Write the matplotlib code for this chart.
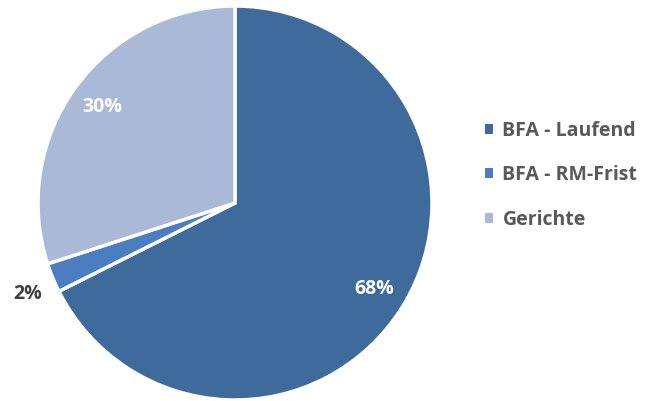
import numpy as np
import matplotlib.pyplot as plt
from matplotlib.patches import Patch

categories = ['BFA - Laufend', 'BFA - RM-Frist', 'Gerichte']
values = [67.6, 2.4, 30.0]
colors = ['#3F6A9C', '#4A7EC0', '#A9B9D7']

plt.rcParams['font.family'] = ['Open Sans', 'DejaVu Sans']

fig = plt.figure(figsize=(6.59, 4.01), dpi=100)
ax = fig.add_axes([38 / 659, 1 / 401, 394 / 659, 394 / 401])

wedges, texts, autotexts = ax.pie(
    values, colors=colors, startangle=90, counterclock=False,
    autopct='%1.0f%%', pctdistance=0.83,
    wedgeprops=dict(edgecolor='white', linewidth=2.5),
    textprops=dict(color='white', fontsize=14, fontweight='bold'))

# small slice label sits outside the pie
w = wedges[1]
ang = np.deg2rad((w.theta1 + w.theta2) / 2 + 1.5)
autotexts[1].set_position((1.15 * np.cos(ang), 1.15 * np.sin(ang)))
autotexts[1].set_color('#404040')

ax.set_xlim(-1, 1)
ax.set_ylim(-1, 1)
ax.set_aspect('equal')

handles = [Patch(facecolor=c, edgecolor='none') for c in colors]
fig.legend(handles, categories, loc='center left', bbox_to_anchor=(467 / 659, 0.563),
           frameon=False, handlelength=0.42, handleheight=0.42, handletextpad=0.5,
           labelspacing=1.26, prop=dict(size=14, weight='bold'), labelcolor='#595959')

fig.savefig('out.png', dpi=100)
